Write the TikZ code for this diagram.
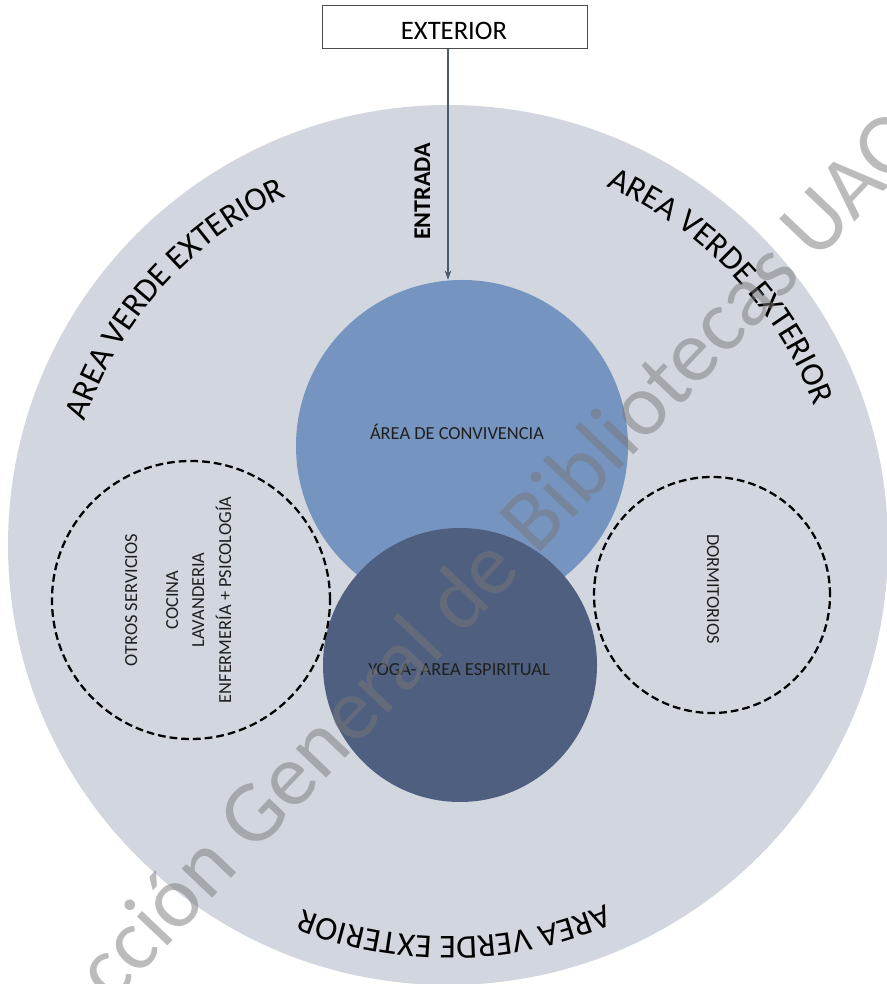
\documentclass[tikz,border=0pt]{standalone}
\usepackage{fontspec}
\setmainfont{Carlito}
\usetikzlibrary{arrows.meta,decorations.text}
\definecolor{verdec}{RGB}{210,215,223}
\definecolor{convc}{RGB}{117,148,191}
\definecolor{yogac}{RGB}{78,95,127}
\definecolor{arrowc}{RGB}{75,88,110}
\definecolor{wmc}{RGB}{120,120,120}
\newcommand\curvefont{\fontsize{25}{30}\selectfont}
\begin{document}
\begin{tikzpicture}[x=0.75pt,y=0.75pt,
  disc/.style={circle,inner sep=0pt,draw=none},
  zone/.style={circle,inner sep=0pt,draw=black,line width=1.7pt,dash pattern=on 5.8pt off 3pt},
  lbl/.style={font=\fontsize{13.8}{16}\selectfont,text=black!88,inner sep=0pt},
  curved/.style={decorate,decoration={text along path,text align=center,text={|\curvefont|AREA VERDE EXTERIOR}}},
  boxstyle/.style={draw=black!70,line width=0.75pt,fill=white,minimum width=198.75pt,minimum height=32.25pt,inner sep=0pt},
  arrowline/.style={draw=arrowc,line width=1pt,-{Stealth[length=7pt,width=5pt]}},
  wmk/.style={font=\fontsize{66}{70}\selectfont,text=wmc,text opacity=0.5,inner sep=0pt}
]
\useasboundingbox (0,0) rectangle (887,984);
\clip (0,0) rectangle (887,984);
% circles
\node[disc,fill=verdec,minimum size=660pt] (verde) at (448,439) {};
\node[disc,fill=convc,minimum size=249pt] (conv) at (462,538) {};
\node[disc,fill=yogac,minimum size=205.5pt] (yoga) at (460,319) {};
\node[zone,minimum size=208.5pt] (serv) at (191,384) {};
\node[zone,minimum size=177pt] (dorm) at (712,389) {};
% exterior box and arrow
\node[boxstyle] (ext) at (454.5,956.5) {};
\node[font=\fontsize{20}{24}\selectfont,anchor=base,inner sep=0pt] (exttxt) at (454,944.7) {EXTERIOR};
\coordinate (ax) at (448,0);
\draw[arrowline] (ext.south -| ax) -- (conv.north -| ax);
\node[font=\bfseries\fontsize{18}{22}\selectfont,rotate=90,anchor=base,inner sep=0pt] (entrada) at (430,792.5) {ENTRADA};
% curved labels
\path[curved] (448,439) ++(178:384) arc[start angle=178,end angle=98,radius=384];
\path[curved] (448,439) ++(83.5:392) arc[start angle=83.5,end angle=3.5,radius=392];
\path[curved] (448,439) ++(-49:392) arc[start angle=-49,end angle=-129,radius=392];
% inner labels
\node[lbl,anchor=base] (convtxt) at (457,544) {ÁREA DE CONVIVENCIA};
\node[lbl,anchor=base] (yogatxt) at (459,308) {YOGA- AREA ESPIRITUAL};
\node[lbl,anchor=base,rotate=90] (s1) at (137,384) {OTROS SERVICIOS};
\node[lbl,anchor=base,rotate=90] (s2) at (178,384) {COCINA};
\node[lbl,anchor=base,rotate=90] (s3) at (204,384) {LAVANDERIA};
\node[lbl,anchor=base,rotate=90] (s4) at (231,384) {ENFERMERÍA + PSICOLOGÍA};
\node[lbl,anchor=base,rotate=-90] (d1) at (707,395) {DORMITORIOS};
% watermark
\node[wmk,rotate=46.5,anchor=base west] (wm) at (10,-128) {Dirección General de Bibliotecas UAQ};
\end{tikzpicture}
\end{document}
